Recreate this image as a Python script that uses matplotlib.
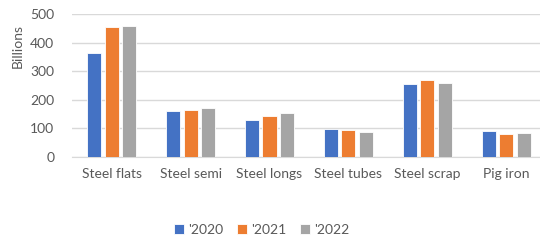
import numpy as np
import matplotlib
matplotlib.use("Agg")
from matplotlib import pyplot as plt

categories = ["Steel flats", "Steel semi", "Steel longs", "Steel tubes", "Steel scrap", "Pig iron"]
years = ["'2020", "'2021", "'2022"]
v2020 = [365, 161, 128, 96, 255, 90]
v2021 = [454, 164, 143, 94, 268, 80]
v2022 = [458, 170, 152, 87, 257, 84]
colors = ["#4472C4", "#ED7D31", "#A5A5A5"]

plt.rcParams['font.family'] = ['Lato', 'DejaVu Sans']
txt = "#595959"

fig = plt.figure(figsize=(5.4, 2.42), dpi=100)
ax = fig.add_axes([0.134, 0.3525, 0.866, 0.5895])

x = np.arange(len(categories))
w = 0.178
step = 0.222
for i, (vals, c, lab) in enumerate(zip([v2020, v2021, v2022], colors, years)):
    ax.bar(x + (i - 1) * step, vals, width=w, color=c, label=lab,
           edgecolor="white", linewidth=0.6, zorder=3)

ax.set_xlim(-0.5, 5.43)
ax.set_ylim(0, 500)
ax.set_yticks(range(0, 501, 100))
ax.set_xticks(x)
ax.set_xticklabels(categories)
ax.grid(axis='y', color="#D9D9D9", linewidth=1.0, zorder=0)
for s in ["top", "right", "left"]:
    ax.spines[s].set_visible(False)
ax.spines["bottom"].set_color("#D9D9D9")
ax.tick_params(axis='both', length=0, colors=txt, labelsize=10)
ax.tick_params(axis='x', pad=8)
ax.tick_params(axis='y', pad=13)

fig.text(0.033, 0.81, "Billions", rotation=90, ha='center', va='center', color=txt, fontsize=10)

leg = fig.legend(loc='center', bbox_to_anchor=(0.485, 0.05), ncol=3, frameon=False,
                 handlelength=0.7, handleheight=0.7, handletextpad=0.3, columnspacing=1.0,
                 fontsize=10)
for t in leg.get_texts():
    t.set_color(txt)

fig.savefig("out.png", dpi=100)
